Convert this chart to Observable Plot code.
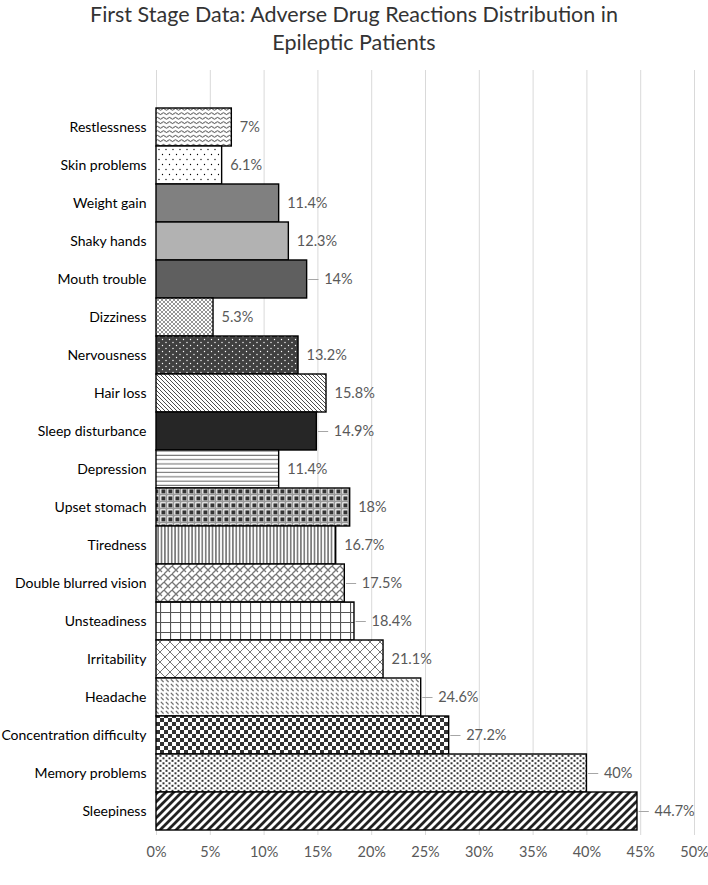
<!DOCTYPE html>
<html>
<head>
<meta charset="utf-8">
<script src="https://cdn.jsdelivr.net/npm/d3@7"></script>
<script src="https://cdn.jsdelivr.net/npm/@observablehq/plot@0.6"></script>
<style>
  html, body { margin: 0; padding: 0; background: #fff; }
  #title { width: 708px; text-align: center; font-family: Lato, "Open Sans", sans-serif; font-size: 21.5px; line-height: 28px; color: #333; padding-top: 0px; height: 62px; box-sizing: border-box; }
  #chart svg { display: block; }
</style>
</head>
<body>
<div id="title">First Stage Data: Adverse Drug Reactions Distribution in<br>Epileptic Patients</div>
<div id="chart"></div>
<script>
// ---- data ----
const categories = ["Restlessness","Skin problems","Weight gain","Shaky hands","Mouth trouble","Dizziness","Nervousness","Hair loss","Sleep disturbance","Depression","Upset stomach","Tiredness","Double blurred vision","Unsteadiness","Irritability","Headache","Concentration difficulty","Memory problems","Sleepiness"];
const percentages = [7, 6.1, 11.4, 12.3, 14, 5.3, 13.2, 15.8, 14.9, 11.4, 18, 16.7, 17.5, 18.4, 21.1, 24.6, 27.2, 40, 44.7];
const withLeaderLine = ["Mouth trouble","Sleep disturbance","Double blurred vision","Unsteadiness","Headache","Concentration difficulty","Memory problems","Sleepiness"];
const xTicks = [0, 5, 10, 15, 20, 25, 30, 35, 40, 45, 50];

// ---- fill patterns (one per bar, top to bottom) ----
const patternDefs = [
  {w: 6, h: 4.5, body: '<path d="M0,2.2 Q1.5,0.4 3,2.2 T6,2.2" fill="none" stroke="#000" stroke-width="0.8"/>'},
  {w: 7, h: 10, body: '<circle cx="1.5" cy="2.5" r="0.65" fill="#000"/><circle cx="5" cy="7.5" r="0.65" fill="#000"/>'},
  {solid: "#808080"},
  {solid: "#b2b2b2"},
  {solid: "#5f5f5f"},
  {w: 4, h: 4, body: '<path d="M0,0 L4,4 M4,0 L0,4" stroke="#7a7a7a" stroke-width="0.8"/>'},
  {w: 7, h: 6, bg: "#404040", body: '<circle cx="1.5" cy="1.5" r="0.7" fill="#fff"/><circle cx="5" cy="4.5" r="0.7" fill="#fff"/>'},
  {w: 4, h: 4, body: '<path d="M0,0 L4,4 M-1,3 L1,5 M3,-1 L5,1" stroke="#000" stroke-width="0.7"/>'},
  {solid: "#262626"},
  {w: 4, h: 4.3, body: '<line x1="0" y1="2" x2="4" y2="2" stroke="#666" stroke-width="1"/>'},
  {w: 7, h: 7, body: '<line x1="0" y1="5.5" x2="7" y2="5.5" stroke="#999" stroke-width="1.6"/><line x1="5.5" y1="0" x2="5.5" y2="7" stroke="#999" stroke-width="1.6"/><rect x="0.4" y="0.4" width="4" height="4" fill="#333"/>'},
  {w: 3.4, h: 4, body: '<line x1="1.7" y1="0" x2="1.7" y2="4" stroke="#222" stroke-width="1"/>'},
  {w: 8, h: 8, body: '<path d="M0,4 L4,0 M4,8 L8,4 M4,0 L8,4 M0,4 L2,6" fill="none" stroke="#777" stroke-width="1.3"/>'},
  {w: 10, h: 10, body: '<path d="M0.5,0 V10 M0,0.5 H10" stroke="#555" stroke-width="1.2"/>'},
  {w: 10, h: 10, body: '<path d="M0,0 L10,10 M10,0 L0,10" stroke="#777" stroke-width="1"/>'},
  {w: 5, h: 4.5, body: '<path d="M0.8,0.8 L3.6,3.6" stroke="#555" stroke-width="1"/>'},
  {w: 8, h: 8, body: '<rect x="0" y="0" width="4" height="4" fill="#333"/><rect x="4" y="4" width="4" height="4" fill="#333"/>'},
  {w: 6, h: 5, body: '<rect x="0.5" y="0.3" width="2" height="2" fill="#333"/><rect x="3.5" y="2.8" width="2" height="2" fill="#333"/>'},
  {w: 8, h: 8, body: '<path d="M0,8 L8,0 M-2,2 L2,-2 M6,10 L10,6" stroke="#222" stroke-width="2.8"/>'}
];
const fills = patternDefs.map((p, i) => p.solid ? p.solid : `url(#pat${i})`);

const data = categories.map((name, i) => ({
  name, value: percentages[i], fill: fills[i], leader: withLeaderLine.includes(name)
}));
const plain = data.filter(d => !d.leader);
const led = data.filter(d => d.leader);

const chart = Plot.plot({
  width: 708,
  height: 823,
  marginTop: 8,
  marginBottom: 50,
  marginLeft: 156,
  marginRight: 14,
  style: {fontFamily: "Lato, 'Open Sans', sans-serif", fontSize: "14px", background: "#fff"},
  x: {domain: [0, 50], label: null},
  y: {domain: categories, padding: 0, insetTop: 32, insetBottom: 0, label: null},
  color: {type: "identity"},
  marks: [
    Plot.gridX(xTicks, {stroke: "#d9d9d9", strokeOpacity: 1, strokeWidth: 1}),
    Plot.barX(data, {x: "value", y: "name", fill: "fill", stroke: "#000", strokeWidth: 1.4}),
    Plot.ruleY(led, {y: "name", x1: d => d.value + 0.15, x2: d => d.value + 1.1, stroke: "#a6a6a6", strokeWidth: 1}),
    Plot.text(plain, {x: "value", y: "name", text: d => d.value + "%", textAnchor: "start", dx: 8, fill: "#595959", fontSize: 14.5}),
    Plot.text(led, {x: "value", y: "name", text: d => d.value + "%", textAnchor: "start", dx: 17, fill: "#595959", fontSize: 14.5}),
    Plot.axisY({tickSize: 0, tickPadding: 10, fontSize: 14, fill: "#000", label: null}),
    Plot.axisX(xTicks, {tickSize: 0, tickPadding: 11, fontSize: 14.5, fill: "#595959", tickFormat: d => d + "%", label: null})
  ]
});
document.getElementById("chart").appendChild(chart);

// pattern definitions
const defs = d3.select(chart).insert("defs", ":first-child");
patternDefs.forEach((p, i) => {
  if (p.solid) return;
  const pat = defs.append("pattern").attr("id", `pat${i}`).attr("patternUnits", "userSpaceOnUse")
    .attr("width", p.w).attr("height", p.h);
  pat.html(`<rect width="${p.w}" height="${p.h}" fill="${p.bg || '#fff'}"/>` + p.body);
});
</script>
</body>
</html>
